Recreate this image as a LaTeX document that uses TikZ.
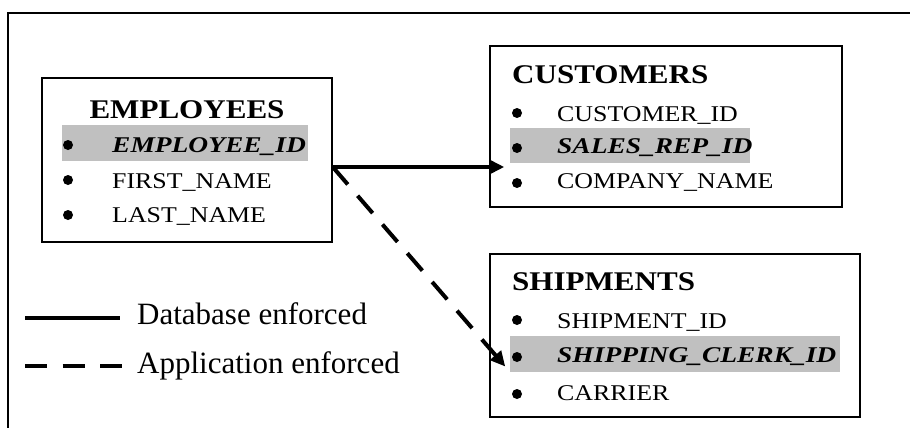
\documentclass[tikz,border=0pt]{standalone}
\usepackage{fontspec}
\setmainfont{Liberation Serif}
\newfontfamily\tfont[FakeStretch=1.15]{Liberation Serif}
\newfontfamily\kfont[FakeStretch=1.22]{Liberation Serif}
\usetikzlibrary{arrows.meta}
\definecolor{hl}{RGB}{192,192,192}
\tikzset{
  tbl/.style={draw=black, line width=1.5pt, inner sep=0pt, fill=none},
  ttl/.style={anchor=base west, inner sep=0pt, font=\tfont\bfseries\fontsize{27}{30}\selectfont},
  row/.style={anchor=base west, inner sep=0pt, font=\tfont\fontsize{22.5}{26}\selectfont},
  keyrow/.style={anchor=base west, inner sep=0pt, font=\kfont\bfseries\itshape\fontsize{22.5}{26}\selectfont},
  legtxt/.style={anchor=base west, inner sep=0pt, font=\fontsize{31}{34}\selectfont},
  hlbox/.style={fill=hl, draw=none},
  bul/.style={fill=black, draw=none},
  dbline/.style={line width=4pt, -{Triangle[length=15pt,width=14pt]}},
  appline/.style={line width=4pt, dash pattern=on 23pt off 15pt, -{Triangle[length=15pt,width=14pt]}},
  legsolid/.style={line width=4pt},
  legdash/.style={line width=4pt, dash pattern=on 22pt off 15.5pt}
}
\begin{document}
\begin{tikzpicture}[x=1pt,y=-1pt]
\useasboundingbox (0,0) rectangle (910,428);
% outer frame
\draw[line width=1.5pt] (8,430) -- (8,13) -- (912,13);
% highlights
\fill[hlbox] (62,125) rectangle (308,161);
\fill[hlbox] (510,128) rectangle (750,163);
\fill[hlbox] (510,336) rectangle (840,372);
% tables
\node[tbl, minimum width=290pt, minimum height=164pt] (emp) at (187,160) {};
\node[tbl, minimum width=352pt, minimum height=161pt] (cus) at (666,126.5) {};
\node[tbl, minimum width=370pt, minimum height=163pt] (shp) at (675,335.5) {};
% EMPLOYEES
\node[ttl, anchor=base] (empt) at (187,118) {EMPLOYEES};
\node[keyrow] (emp1) at (112,152) {EMPLOYEE\_ID};
\node[row] (emp2) at (112,188) {FIRST\_NAME};
\node[row] (emp3) at (112,222) {LAST\_NAME};
\fill[bul] (68,145) circle (5);
\fill[bul] (68,180) circle (5);
\fill[bul] (68,215) circle (5);
% CUSTOMERS
\node[ttl] (cust) at (512,83) {CUSTOMERS};
\node[row] (cus1) at (557,121) {CUSTOMER\_ID};
\node[keyrow] (cus2) at (557,153) {SALES\_REP\_ID};
\node[row] (cus3) at (557,188) {COMPANY\_NAME};
\fill[bul] (517,113) circle (5);
\fill[bul] (517,148) circle (5);
\fill[bul] (517,183) circle (5);
% SHIPMENTS
\node[ttl] (shpt) at (512,290) {SHIPMENTS};
\node[row] (shp1) at (557,328) {SHIPMENT\_ID};
\node[keyrow] (shp2) at (557,362) {SHIPPING\_CLERK\_ID};
\node[row] (shp3) at (557,400) {CARRIER};
\fill[bul] (517,320) circle (5);
\fill[bul] (517,357) circle (5);
\fill[bul] (517,394) circle (5);
% connectors
\coordinate (src) at ([yshift=-7pt]emp.east);
\draw[dbline] (src) -- ([xshift=15pt]cus.west |- src);
\draw[appline] (src) -- ([xshift=16pt,yshift=-31pt]shp.west);
% legend
\coordinate (l1a) at (25,318);
\coordinate (l1b) at (120,318);
\coordinate (l2a) at (25,366);
\coordinate (l2b) at (122,366);
\draw[legsolid] (l1a) -- (l1b);
\draw[legdash] (l2a) -- (l2b);
\node[legtxt] (leg1) at (137,324) {Database enforced};
\node[legtxt] (leg2) at (137,373) {Application enforced};
\end{tikzpicture}
\end{document}
